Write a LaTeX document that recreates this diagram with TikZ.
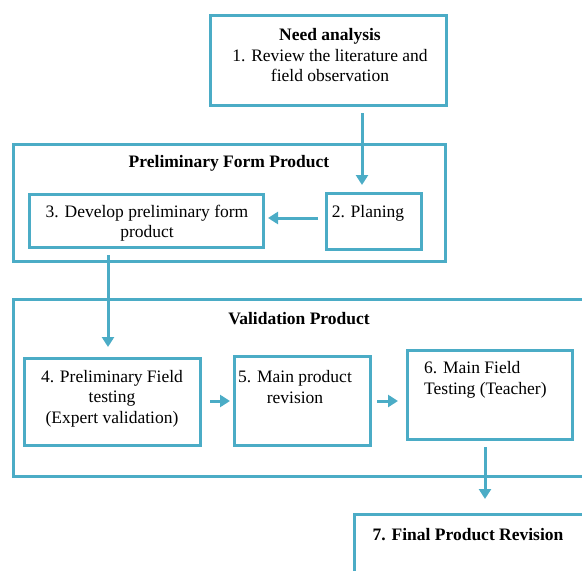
\documentclass[tikz,border=0pt]{standalone}
\usepackage{fontspec}
\setmainfont{Liberation Serif}
\usetikzlibrary{arrows.meta}
\definecolor{flowblue}{RGB}{75,172,198}

\begin{document}
\begin{tikzpicture}[x=1pt, y=-1pt,
	stagebox/.style={draw=flowblue, line width=3pt, fill=white},
	stagetext/.style={align=center, inner sep=0pt, font=\fontsize{17.5}{20.5}\selectfont},
	titletext/.style={inner sep=0pt, font=\fontsize{17.5}{20.5}\selectfont\bfseries},
	frame/.style={draw=flowblue, line width=3pt},
	flow/.style={draw=flowblue, line width=3pt, -{Triangle[width=12pt,length=10pt]}}]
	\useasboundingbox (0,0) rectangle (582,571);
	\clip (0,0) rectangle (582,571);

	\draw[frame] (13.5,144.5) rectangle (445.5,261.5);
	\draw[frame] (13.5,299.5) rectangle (600,476.5);
	\node[titletext] (prelimtitle) at (229,163) {Preliminary Form Product};
	\node[titletext] (validtitle) at (299,319) {Validation Product};

	\node[stagebox, minimum width=236, minimum height=90] (need) at (328.5,60.5) {};
	\node[stagebox, minimum width=95, minimum height=56] (planing) at (374,221.5) {};
	\node[stagebox, minimum width=234, minimum height=53] (develop) at (146.5,221) {};
	\node[stagebox, minimum width=176, minimum height=87] (fieldtest) at (112.5,402) {};
	\node[stagebox, minimum width=136, minimum height=89] (revision) at (302.5,401) {};
	\node[stagebox, minimum width=165, minimum height=89] (maintest) at (490,395) {};
	\node[stagebox, minimum width=235.5, minimum height=85.5] (final) at (472.25,557.25) {};

	\node[stagetext] (needtext) at (330,55.5) {\textbf{Need analysis}\\1. Review the literature and\\field observation};
	\node[stagetext] (planingtext) at (368,213) {2. Planing};
	\node[stagetext] (developtext) at (147,223) {3. Develop preliminary form\\product};
	\node[stagetext] (fieldtext) at (112,398.5) {4. Preliminary Field\\testing\\(Expert validation)};
	\node[stagetext] (revisiontext) at (295,387) {5. Main product\\revision};
	\node[stagetext, align=left, anchor=west] (maintesttext) at (424,380) {6. Main Field\\Testing (Teacher)};
	\node[titletext] (finaltext) at (468,535) {7. Final Product Revision};

	\draw[flow, shorten <=6pt, shorten >=7pt] ([xshift=-12pt]planing.north |- need.south) -- ([xshift=-12pt]planing.north);
	\draw[flow, shorten <=7pt, shorten >=3pt] ([yshift=3.5pt]planing.west) -- ([yshift=3.5pt]planing.west -| develop.east);
	\draw[flow, shorten <=6pt, shorten >=10pt] ([xshift=-4.5pt]fieldtest.north |- develop.south) -- ([xshift=-4.5pt]fieldtest.north);
	\draw[flow, shorten <=8pt, shorten >=3pt] ([yshift=1pt]fieldtest.east) -- ([yshift=1pt]fieldtest.east -| revision.west);
	\draw[flow, shorten <=5pt, shorten >=8pt] (revision.east) -- (revision.east -| maintest.west);
	\draw[flow, shorten <=6pt, shorten >=14pt] ([xshift=-5pt]maintest.south) -- ([xshift=-5pt]maintest.south |- final.north);

\end{tikzpicture}
\end{document}
